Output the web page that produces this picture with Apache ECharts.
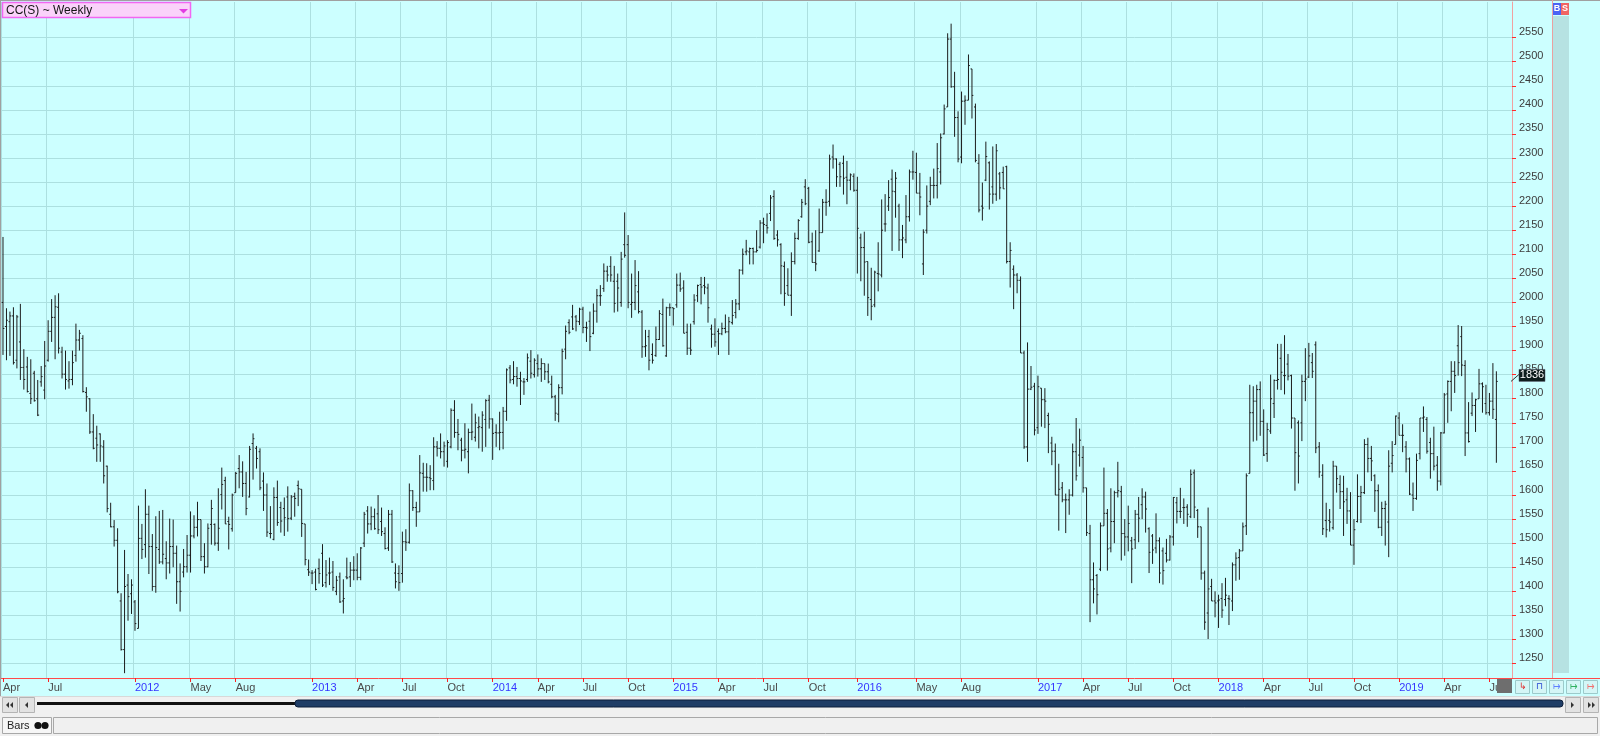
<!DOCTYPE html>
<html>
<head>
<meta charset="utf-8">
<script src="https://cdn.jsdelivr.net/npm/echarts@6/dist/echarts.min.js"></script>
<style>
html,body{margin:0;padding:0;background:#ccffff;}
#c{width:1600px;height:736px;}
</style>
</head>
<body>
<div id="c"></div>
<script>
// ---- weekly OHLC values (CC(S) ~ Weekly), first bar = week of 2011-04-01 ----
const open = [
2000,1950,1960,1972,1880,1918,1865,1866,1811,1853,
1800,1835,1818,1880,1940,1969,1990,1897,1851,1837,
1840,1890,1922,1925,1813,1800,1731,1718,1727,1700,
1660,1560,1534,1506,1380,1279,1413,1395,1378,1323,
1510,1497,1560,1493,1410,1487,1461,1468,1459,1493,
1479,1420,1440,1451,1475,1515,1533,1549,1472,1451,
1539,1539,1500,1601,1630,1545,1530,1605,1655,1648,
1624,1596,1707,1697,1690,1629,1600,1520,1508,1595,
1574,1572,1596,1552,1597,1620,1612,1540,1445,1438,
1440,1447,1479,1418,1438,1440,1400,1430,1380,1430,
1430,1444,1444,1429,1500,1567,1540,1555,1561,1545,
1520,1490,1560,1438,1437,1437,1503,1502,1609,1574,
1565,1645,1637,1636,1630,1700,1697,1690,1670,1700,
1776,1730,1714,1693,1690,1730,1720,1740,1740,1757,
1797,1758,1730,1729,1730,1774,1864,1840,1846,1842,
1835,1840,1878,1850,1873,1862,1873,1856,1830,1804,
1768,1823,1903,1958,1970,1970,1960,1986,1948,1961,
1936,1982,2014,2029,2065,2075,2044,2044,2000,2120,
2120,1996,2000,2022,1980,1908,1929,1892,1890,1923,
1975,1889,1989,1989,1995,2036,2030,1938,1905,1960,
2014,2037,2035,2030,1945,1934,1940,1935,1946,1939,
1958,1979,1997,2067,2105,2105,2112,2105,2115,2165,
2160,2185,2220,2140,2120,2075,2035,2015,2085,2133,
2178,2240,2237,2126,2083,2107,2145,2208,2210,2302,
2298,2287,2289,2260,2254,2262,2233,2134,2114,2085,
2006,1995,2060,2057,2163,2200,2256,2230,2200,2130,
2130,2178,2271,2270,2227,2080,2150,2210,2243,2243,
2271,2350,2406,2547,2448,2384,2302,2418,2420,2485,
2406,2289,2200,2254,2290,2240,2225,2267,2270,2282,
2085,2069,2057,2046,1895,1700,1820,1826,1740,1822,
1798,1765,1708,1691,1600,1615,1590,1590,1600,1690,
1683,1678,1615,1520,1424,1433,1446,1536,1562,1490,
1545,1605,1607,1520,1513,1505,1507,1560,1580,1596,
1530,1515,1490,1505,1484,1479,1465,1513,1584,1566,
1574,1575,1555,1646,1568,1534,1438,1355,1410,1380,
1380,1385,1383,1385,1380,1455,1470,1484,1536,1645,
1771,1795,1819,1753,1686,1733,1790,1838,1884,1848,
1872,1848,1760,1750,1750,1836,1845,1875,1912,1700,
1641,1547,1547,1532,1660,1622,1607,1590,1567,1496,
1545,1597,1605,1705,1676,1640,1609,1533,1572,1544,
1666,1705,1760,1724,1700,1675,1600,1593,1686,1760,
1757,1709,1686,1662,1629,1729,1810,1836,1857,1910,
1929,1869,1729,1770,1786,1800,1831,1790,1771,1795,1757
];
const high = [
2136,1988,1981,1990,1974,1997,1903,1887,1882,1858,
1839,1868,1920,1963,2007,2015,2019,1908,1900,1878,
1900,1956,1943,1932,1824,1801,1768,1744,1728,1714,
1661,1584,1548,1531,1396,1486,1436,1425,1382,1578,
1540,1612,1578,1519,1556,1567,1569,1504,1551,1549,
1495,1458,1488,1517,1566,1558,1586,1549,1500,1541,
1590,1541,1614,1657,1638,1555,1603,1648,1683,1670,
1648,1702,1728,1702,1697,1647,1624,1577,1616,1630,
1586,1595,1618,1600,1605,1630,1612,1540,1466,1444,
1447,1468,1498,1465,1470,1463,1432,1439,1425,1470,
1461,1473,1479,1492,1565,1577,1576,1572,1600,1574,
1533,1569,1569,1458,1454,1524,1529,1624,1610,1586,
1683,1667,1666,1662,1720,1712,1728,1711,1714,1780,
1797,1758,1719,1749,1738,1790,1769,1763,1774,1799,
1808,1759,1747,1773,1783,1863,1870,1878,1866,1856,
1843,1894,1901,1884,1892,1884,1873,1873,1848,1808,
1830,1904,1952,1965,1995,1974,1989,1991,1960,1981,
1998,2028,2036,2081,2076,2096,2076,2060,2105,2187,
2140,2060,2088,2065,1984,1943,1943,1915,1950,1984,
2008,1991,1998,1989,2060,2062,2046,1956,1956,2017,
2037,2053,2053,2039,1954,1967,1946,1958,1975,1970,
2005,2007,2069,2112,2130,2114,2114,2150,2171,2176,
2185,2223,2233,2150,2123,2085,2071,2104,2145,2173,
2215,2256,2240,2145,2150,2195,2215,2235,2307,2328,
2299,2292,2305,2294,2268,2268,2261,2143,2147,2085,
2072,2066,2125,2214,2225,2254,2276,2271,2205,2161,
2223,2276,2315,2311,2269,2152,2243,2261,2278,2331,
2351,2411,2559,2579,2479,2397,2438,2430,2515,2485,
2413,2308,2249,2334,2293,2324,2329,2271,2282,2284,
2125,2077,2061,2054,1900,1917,1868,1833,1848,1822,
1822,1771,1721,1707,1665,1627,1603,1612,1707,1760,
1738,1702,1615,1538,1460,1436,1543,1657,1571,1614,
1609,1669,1619,1550,1578,1513,1569,1596,1614,1607,
1533,1519,1562,1512,1491,1509,1517,1596,1596,1615,
1593,1581,1653,1653,1571,1534,1443,1574,1426,1400,
1393,1417,1428,1392,1460,1481,1488,1543,1645,1829,
1826,1829,1836,1778,1750,1850,1840,1914,1914,1932,
1893,1850,1760,1755,1850,1905,1916,1895,1919,1710,
1664,1584,1571,1671,1660,1641,1640,1615,1606,1550,
1643,1619,1716,1719,1702,1643,1622,1586,1588,1693,
1712,1765,1772,1747,1712,1678,1626,1686,1760,1784,
1762,1719,1742,1681,1731,1812,1838,1878,1878,1953,
1951,1880,1793,1813,1800,1862,1834,1829,1812,1874,1857
];
const low = [
1891,1880,1889,1871,1863,1839,1819,1813,1789,1794,
1764,1825,1799,1877,1918,1882,1894,1842,1819,1821,
1828,1877,1900,1813,1773,1727,1695,1669,1669,1624,
1564,1533,1493,1396,1277,1230,1339,1353,1318,1323,
1467,1470,1436,1401,1397,1457,1456,1425,1437,1450,
1374,1358,1429,1439,1439,1510,1514,1463,1437,1450,
1497,1495,1484,1570,1540,1487,1524,1605,1614,1596,
1558,1595,1632,1655,1610,1567,1513,1510,1506,1536,
1522,1515,1524,1548,1555,1577,1513,1454,1432,1415,
1402,1416,1409,1408,1413,1401,1392,1376,1354,1425,
1409,1423,1423,1423,1492,1520,1527,1528,1519,1515,
1487,1484,1459,1406,1401,1418,1484,1499,1567,1534,
1565,1607,1607,1610,1610,1680,1676,1659,1657,1697,
1719,1693,1670,1676,1645,1714,1711,1697,1690,1700,
1738,1673,1700,1693,1695,1754,1832,1830,1825,1787,
1808,1835,1842,1844,1846,1835,1839,1832,1801,1754,
1751,1809,1882,1934,1943,1940,1953,1936,1918,1899,
1934,1958,1993,2022,2043,2043,1979,1981,1991,2093,
1988,1968,1984,1977,1885,1887,1859,1873,1887,1922,
1908,1887,1972,1952,1989,2022,1936,1891,1891,1954,
2001,1996,2017,1958,1906,1908,1891,1932,1936,1891,
1954,1967,1984,2058,2098,2079,2079,2104,2112,2123,
2143,2169,2130,2116,2017,1993,2015,1972,2079,2130,
2176,2202,2123,2083,2065,2105,2145,2180,2199,2278,
2240,2240,2224,2204,2233,2230,2060,2044,2014,1972,
1963,1990,2023,2052,2147,2190,2107,2176,2107,2092,
2123,2168,2255,2227,2181,2057,2143,2202,2216,2216,
2245,2349,2406,2446,2344,2291,2289,2369,2420,2382,
2291,2187,2170,2252,2193,2205,2211,2214,2236,2081,
2031,1986,2019,1895,1696,1669,1818,1724,1727,1742,
1739,1687,1662,1600,1526,1585,1521,1559,1597,1630,
1659,1605,1515,1336,1375,1352,1442,1536,1443,1481,
1500,1595,1464,1474,1483,1417,1488,1502,1550,1522,
1438,1457,1479,1417,1414,1460,1464,1495,1541,1552,
1540,1534,1552,1552,1511,1424,1320,1301,1380,1346,
1324,1345,1369,1330,1359,1422,1424,1484,1517,1645,
1711,1713,1723,1681,1669,1727,1760,1819,1818,1809,
1838,1738,1609,1624,1712,1795,1843,1843,1687,1636,
1517,1512,1524,1528,1605,1571,1515,1540,1496,1455,
1543,1542,1602,1647,1629,1565,1531,1515,1495,1471,
1647,1705,1724,1689,1647,1600,1567,1590,1674,1731,
1686,1634,1651,1609,1620,1728,1750,1774,1812,1848,
1847,1681,1709,1764,1731,1800,1771,1767,1765,1758,1667
];
const close = [
1946,1963,1972,1875,1970,1865,1840,1815,1800,1796,
1766,1846,1868,1940,1969,1991,1905,1851,1840,1840,
1875,1922,1936,1815,1804,1731,1697,1704,1702,1640,
1572,1534,1506,1399,1279,1410,1389,1413,1333,1510,
1487,1560,1493,1410,1491,1461,1477,1459,1493,1479,
1420,1400,1451,1475,1515,1533,1549,1472,1451,1531,
1572,1500,1531,1622,1540,1539,1600,1645,1648,1624,
1572,1695,1717,1676,1615,1600,1523,1520,1595,1543,
1546,1553,1551,1596,1593,1613,1541,1466,1440,1438,
1404,1437,1413,1434,1438,1408,1423,1378,1385,1428,
1444,1444,1429,1490,1560,1540,1555,1530,1528,1524,
1489,1560,1461,1420,1418,1503,1502,1609,1574,1565,
1646,1637,1637,1634,1700,1697,1690,1702,1709,1776,
1730,1726,1693,1695,1730,1731,1750,1742,1766,1796,
1758,1728,1729,1730,1774,1860,1839,1846,1842,1837,
1835,1885,1853,1880,1862,1873,1856,1835,1804,1770,
1823,1898,1940,1938,1945,1961,1986,1948,1947,1929,
1982,2014,2014,2065,2057,2057,1998,2030,2090,2098,
2000,2000,2035,1981,1908,1910,1880,1880,1923,1977,
1910,1989,1989,1987,2036,2028,1936,1905,1901,2005,
2035,2032,2032,1989,1934,1918,1935,1946,1939,1960,
1973,1997,2067,2100,2107,2112,2105,2108,2165,2162,
2155,2217,2133,2130,2076,2019,2015,2085,2133,2170,
2208,2205,2125,2083,2080,2145,2208,2208,2298,2298,
2261,2261,2258,2254,2265,2233,2154,2114,2084,2010,
1992,2063,2059,2150,2163,2218,2231,2258,2130,2134,
2178,2271,2271,2227,2219,2146,2200,2243,2243,2278,
2342,2402,2547,2448,2384,2298,2418,2420,2492,2430,
2295,2192,2196,2303,2225,2225,2315,2238,2236,2085,
2108,2057,2046,1895,1700,1820,1824,1735,1825,1798,
1795,1747,1691,1600,1612,1590,1590,1600,1690,1640,
1714,1615,1522,1424,1405,1393,1536,1562,1488,1545,
1605,1609,1520,1513,1541,1488,1560,1552,1596,1571,
1481,1486,1505,1438,1443,1465,1513,1595,1566,1566,
1574,1560,1643,1575,1534,1438,1336,1405,1380,1376,
1382,1361,1392,1384,1455,1469,1484,1534,1640,1771,
1795,1819,1753,1683,1736,1800,1838,1840,1855,1848,
1847,1760,1688,1681,1836,1841,1889,1857,1698,1648,
1530,1528,1544,1660,1634,1607,1586,1567,1496,1528,
1597,1605,1705,1676,1671,1609,1533,1572,1581,1660,
1682,1764,1724,1724,1675,1602,1593,1672,1760,1762,
1691,1686,1660,1629,1729,1808,1836,1857,1848,1875,
1870,1729,1711,1786,1798,1831,1825,1771,1795,1778,1836
];

// ---- axis labels ----
const firstWeek = '2011-04-01';
const weekCount = 435;               // 431 bars + empty right margin
const xTickIndex = [0,13,38,54,67,89,102,115,128,141,154,167,180,193,206,219,232,246,263,276,298,311,324,337,350,363,376,389,402,415,428];
const xTickText  = ['Apr','Jul','2012','May','Aug','2013','Apr','Jul','Oct','2014','Apr','Jul','Oct','2015','Apr','Jul','Oct','2016','May','Aug','2017','Apr','Jul','Oct','2018','Apr','Jul','Oct','2019','Apr','Jul'];
const yTickValues = [1250,1300,1350,1400,1450,1500,1550,1600,1650,1700,1750,1800,1850,1900,1950,2000,2050,2100,2150,2200,2250,2300,2350,2400,2450,2500,2550];
const title = 'CC(S) ~ Weekly';

// ---- build ----
const weeks = [];
const t0 = Date.parse(firstWeek + 'T00:00:00Z');
for (let i = 0; i < weekCount; i++) weeks.push(new Date(t0 + i * 7 * 86400000).toISOString().slice(0, 10));
const tickMap = {};
xTickIndex.forEach((k, j) => tickMap[k] = xTickText[j]);
const isTick = (i) => tickMap[i] !== undefined;
const bars = open.map((o, i) => [i, o, high[i], low[i], close[i]]);

const FONT = "'Liberation Sans', Arial, sans-serif";
const chart = echarts.init(document.getElementById('c'), null, {renderer: 'canvas'});

function renderItem(params, api) {
  const x = api.value(0);
  const po = api.coord([x, api.value(1)]);
  const ph = api.coord([x, api.value(2)]);
  const pl = api.coord([x, api.value(3)]);
  const pc = api.coord([x, api.value(4)]);
  const cx = ph[0];
  const t = 1.4;
  const st = {stroke: '#1c1c1c', lineWidth: 1};
  return {
    type: 'group',
    children: [
      {type: 'line', shape: {x1: cx, y1: ph[1], x2: cx, y2: pl[1]}, style: st},
      {type: 'line', shape: {x1: cx - t, y1: po[1], x2: cx, y2: po[1]}, style: st},
      {type: 'line', shape: {x1: cx, y1: pc[1], x2: cx + t, y2: pc[1]}, style: st}
    ]
  };
}

const option = {
  animation: false,
  backgroundColor: '#ccffff',
  grid: {left: 1, top: 2, width: 1511, height: 676, containLabel: false},
  xAxis: {
    type: 'category',
    data: weeks,
    boundaryGap: true,
    axisLine: {show: true, lineStyle: {color: '#ff4a4a', width: 1}},
    axisTick: {show: true, alignWithLabel: true, length: 4, interval: (i) => isTick(i), lineStyle: {color: '#ff2020'}},
    axisLabel: {
      show: true,
      interval: (i) => isTick(i),
      align: 'left',
      margin: 4,
      fontSize: 11,
      fontFamily: FONT,
      formatter: (v, i) => {
        const s = tickMap[i];
        if (s === undefined) return '';
        return /^\d{4}$/.test(s) ? '{y|' + s + '}' : '{m|' + s + '}';
      },
      rich: {
        y: {color: '#3535ff', fontSize: 11, fontFamily: FONT},
        m: {color: '#4a4a4a', fontSize: 11, fontFamily: FONT}
      }
    },
    splitLine: {show: true, interval: (i) => isTick(i), lineStyle: {color: '#ace0e0', width: 1}}
  },
  yAxis: {
    type: 'value',
    position: 'right',
    min: 1220,
    max: 2624,
    axisLine: {show: true, lineStyle: {color: '#f2a0a0', width: 1}},
    axisTick: {show: true, length: 4, customValues: yTickValues, lineStyle: {color: '#ff2a2a'}},
    axisLabel: {
      show: true,
      customValues: yTickValues,
      formatter: (v) => String(Math.round(v)),
      margin: 7,
      fontSize: 11,
      fontFamily: FONT,
      color: '#3c3c3c',
      verticalAlign: 'bottom',
      lineHeight: 11
    },
    splitLine: {show: true, lineStyle: {color: '#ace0e0', width: 1}}
  },
  series: [{
    type: 'custom',
    name: 'CC(S)',
    renderItem: renderItem,
    encode: {x: 0, y: [1, 2, 3, 4]},
    data: bars,
    clip: true,
    z: 5
  }]
};
chart.setOption(option);

// ---- decorations (toolbar frame of the charting app) ----
const lastClose = close[close.length - 1];
const lastY = chart.convertToPixel({yAxisIndex: 0}, lastClose);

function btn(x, y, w, h, fill, stroke) {
  return {type: 'rect', shape: {x: x, y: y, width: w, height: h}, style: {fill: fill, stroke: stroke, lineWidth: 1}};
}
const g = [];
// frame borders
g.push({type: 'rect', shape: {x: 0, y: 0, width: 1600, height: 1}, style: {fill: '#a0a0a0'}});
g.push({type: 'rect', shape: {x: 0, y: 0, width: 1, height: 697}, style: {fill: '#a0a0a0'}});
// right panel line + grey column
g.push({type: 'line', shape: {x1: 1552.5, y1: 0, x2: 1552.5, y2: 678}, style: {stroke: '#eaa0a0', lineWidth: 1}});
g.push({type: 'rect', shape: {x: 1553, y: 16, width: 16, height: 657}, style: {fill: '#b6e2e2'}});
// B / S
g.push({type: 'rect', shape: {x: 1553, y: 3, width: 8, height: 12}, style: {fill: '#4a64f4'}});
g.push({type: 'text', x: 1557, y: 9, style: {text: 'B', fill: '#ffffff', font: 'bold 9px ' + FONT, align: 'center', verticalAlign: 'middle'}});
g.push({type: 'rect', shape: {x: 1561, y: 3, width: 8, height: 12}, style: {fill: '#f06464'}});
g.push({type: 'text', x: 1565, y: 9, style: {text: 'S', fill: '#ffffff', font: 'bold 9px ' + FONT, align: 'center', verticalAlign: 'middle'}});
// x-axis red line continuation
g.push({type: 'line', shape: {x1: 1512, y1: 678.5, x2: 1600, y2: 678.5}, style: {stroke: '#ff4a4a', lineWidth: 1}});
// small current-position box and buttons at the bottom right
g.push({type: 'rect', shape: {x: 1497, y: 679, width: 15, height: 14}, style: {fill: '#6e6e6e'}});
const bcol = ['#e03030', '#2040d0', '#6080ff', '#30b060', '#f07070'];
const bsym = ['\u21b3', '\u2293', '\u21a6', '\u21a6', '\u21a6'];
for (let k = 0; k < 5; k++) {
  const bx = 1515 + k * 17;
  g.push(btn(bx + 0.5, 680.5, 14, 13, '#d4f6f6', '#9ccaca'));
  g.push({type: 'text', x: bx + 7.5, y: 687, style: {text: bsym[k], fill: bcol[k], font: '9px ' + FONT, align: 'center', verticalAlign: 'middle'}});
}
// bottom grey strip
g.push({type: 'rect', shape: {x: 0, y: 696, width: 1600, height: 40}, style: {fill: '#f0f0f0'}});
g.push({type: 'line', shape: {x1: 0, y1: 696.5, x2: 1600, y2: 696.5}, style: {stroke: '#d8d8d8', lineWidth: 1}});
// scrollbar
g.push(btn(2.5, 697.5, 15, 15, '#e2e2e2', '#b4b4b4'));
g.push(btn(19.5, 697.5, 15, 15, '#e2e2e2', '#b4b4b4'));
g.push({type: 'polygon', shape: {points: [[9, 702], [9, 708], [6, 705]]}, style: {fill: '#333'}});
g.push({type: 'polygon', shape: {points: [[13, 702], [13, 708], [10, 705]]}, style: {fill: '#333'}});
g.push({type: 'polygon', shape: {points: [[28, 702], [28, 708], [25, 705]]}, style: {fill: '#333'}});
g.push({type: 'rect', shape: {x: 37, y: 702, width: 259, height: 3}, style: {fill: '#111111'}});
g.push({type: 'rect', shape: {x: 295, y: 700, width: 1268, height: 7, r: 3}, style: {fill: '#1f3d66', stroke: '#0d1f3a', lineWidth: 1}});
g.push(btn(1565.5, 697.5, 15, 15, '#e2e2e2', '#b4b4b4'));
g.push(btn(1583.5, 697.5, 15, 15, '#e2e2e2', '#b4b4b4'));
g.push({type: 'polygon', shape: {points: [[1571, 702], [1571, 708], [1574, 705]]}, style: {fill: '#333'}});
g.push({type: 'polygon', shape: {points: [[1588, 702], [1588, 708], [1591, 705]]}, style: {fill: '#333'}});
g.push({type: 'polygon', shape: {points: [[1592, 702], [1592, 708], [1595, 705]]}, style: {fill: '#333'}});
// bottom study row
g.push(btn(2.5, 717.5, 49, 16, '#f6f6f6', '#a8a8a8'));
g.push({type: 'text', x: 7, y: 726, style: {text: 'Bars', fill: '#222', font: '11px ' + FONT, verticalAlign: 'middle'}});
g.push({type: 'circle', shape: {cx: 38, cy: 725.5, r: 3.6}, style: {fill: '#111'}});
g.push({type: 'circle', shape: {cx: 45, cy: 725.5, r: 3.6}, style: {fill: '#111'}});
g.push(btn(53.5, 717.5, 1544, 16, '#f0f0f0', '#a8a8a8'));
// title box
g.push({type: 'rect', shape: {x: 2.5, y: 2.5, width: 188, height: 15}, style: {fill: '#fad2fa', stroke: '#f266f2', lineWidth: 1.5}});
g.push({type: 'text', x: 6, y: 10.5, style: {text: title, fill: '#141414', font: '12px ' + FONT, verticalAlign: 'middle'}});
g.push({type: 'polygon', shape: {points: [[179, 9], [188, 9], [183.5, 13.5]]}, style: {fill: '#e23ce2'}});
// last price marker
g.push({type: 'line', shape: {x1: 1511, y1: lastY, x2: 1519, y2: lastY - 7}, style: {stroke: '#333', lineWidth: 1}});
g.push({type: 'rect', shape: {x: 1519, y: lastY - 12, width: 26, height: 12}, style: {fill: '#0e1c1c', stroke: '#556', lineWidth: 0.5}});
g.push({type: 'text', x: 1532, y: lastY - 6, style: {text: String(lastClose), fill: '#ffffff', font: '11px ' + FONT, align: 'center', verticalAlign: 'middle'}});

chart.setOption({graphic: g.map(e => Object.assign({z: 100, silent: true}, e))});
</script>
</body>
</html>
